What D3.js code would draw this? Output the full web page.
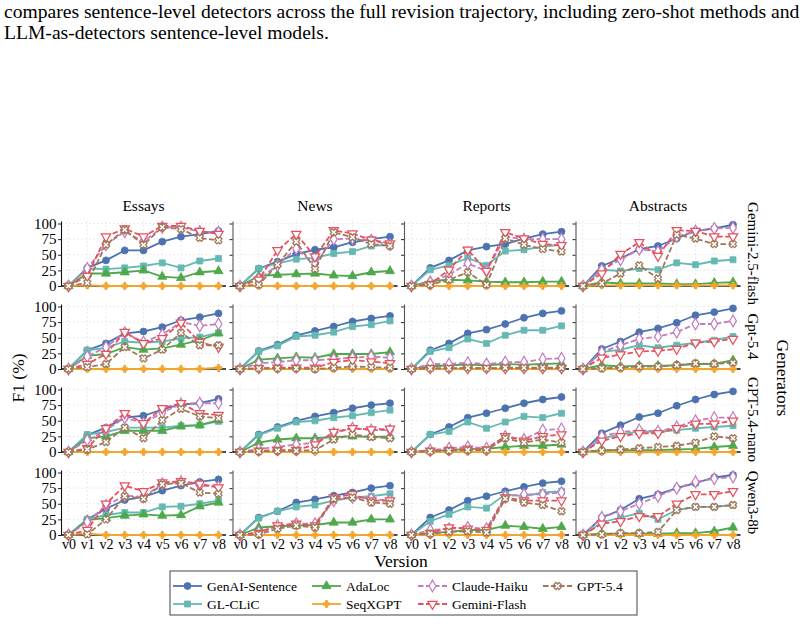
<!DOCTYPE html>
<html>
<head>
<meta charset="utf-8">
<script src="https://cdn.jsdelivr.net/npm/d3@7"></script>
<style>
  body{margin:0;background:#fff;}
  svg{display:block;font-family:"Liberation Serif","Times New Roman",serif;}
</style>
</head>
<body>
<svg id="svg" width="804" height="624"></svg>
<script>
// ---- data ----
var versions = ["v0","v1","v2","v3","v4","v5","v6","v7","v8"];
var domains = ["Essays","News","Reports","Abstracts"];
var generators = ["Gemini-2.5-flash","Gpt-5.4","GPT-5.4-nano","Qwen3-8b"];
var detectors = ["GenAI-Sentence","GL-CLiC","AdaLoc","SeqXGPT","Claude-Haiku","Gemini-Flash","GPT-5.4"];
var yTicks = [0,25,50,75,100];

// one array per panel, rows follow the detectors order above (F1 in %)
var geminiEssays = [
  [0,29,41,57,57,71,79,83,88],
  [0,28,27,29,32,37,29,40,44],
  [0,20,20,22,25,15,13,22,24],
  [0,1,0,0,0,0,0,0,0],
  [0,28,66,87,71,94,94,87,86],
  [0,16,79,92,79,96,96,88,83],
  [0,5,66,90,66,94,91,77,73]];
var geminiNews = [
  [0,28,39,51,58,62,70,75,79],
  [0,28,36,43,45,52,55,64,66],
  [0,16,18,19,20,17,16,22,24],
  [0,0,0,0,0,0,0,0,0],
  [0,11,33,60,35,75,76,73,66],
  [0,10,57,83,47,89,84,74,68],
  [0,2,34,71,27,86,78,67,64]];
var geminiReports = [
  [0,29,41,57,63,67,76,83,87],
  [0,26,33,45,33,56,58,63,66],
  [0,8,10,9,7,6,6,7,7],
  [0,0,0,0,0,0,0,0,0],
  [0,6,18,36,24,79,75,75,75],
  [0,3,26,58,24,86,76,67,65],
  [0,2,10,22,2,76,66,59,55]];
var geminiAbstracts = [
  [0,32,44,59,64,76,88,92,98],
  [0,26,24,28,26,37,34,40,42],
  [0,6,4,4,4,3,3,5,6],
  [0,1,1,1,1,1,1,1,1],
  [0,26,42,59,55,79,88,92,93],
  [0,20,51,70,48,89,88,79,79],
  [0,4,20,33,12,82,76,67,67]];

var gptEssays = [
  [0,30,41,57,60,67,78,83,89],
  [0,30,34,44,42,44,49,51,58],
  [0,21,24,35,31,33,39,46,57],
  [0,0,0,0,0,0,0,0,2],
  [0,20,35,58,43,55,75,69,72],
  [0,8,24,59,41,49,74,43,35],
  [0,3,8,35,17,31,58,38,38]];
var gptNews = [
  [0,29,39,54,61,68,76,81,85],
  [0,28,37,52,54,59,68,71,77],
  [0,15,17,19,18,24,24,24,27],
  [0,0,0,0,0,0,0,0,0],
  [0,9,11,14,14,16,18,20,18],
  [0,1,2,2,2,11,14,12,9],
  [0,1,1,1,0,2,4,3,2]];
var gptReports = [
  [0,30,41,57,63,72,82,89,93],
  [0,28,34,48,41,54,62,62,69],
  [0,4,6,7,6,8,7,8,9],
  [0,0,0,0,0,0,0,0,0],
  [0,8,8,10,8,11,11,16,17],
  [0,1,1,1,1,1,1,1,1],
  [0,1,1,2,1,2,2,2,2]];
var gptAbstracts = [
  [0,32,44,59,65,74,86,91,97],
  [0,27,31,38,34,38,42,46,52],
  [0,6,4,5,5,6,8,8,14],
  [0,0,0,0,0,0,0,0,0],
  [0,27,38,48,52,59,72,72,77],
  [0,18,23,28,29,32,42,44,48],
  [0,1,2,4,4,6,9,8,10]];

var nanoEssays = [
  [0,27,39,55,58,68,76,78,85],
  [0,28,32,39,39,39,42,43,49],
  [0,22,25,34,34,34,41,43,51],
  [0,0,0,0,0,0,0,0,0],
  [0,19,35,55,46,63,77,78,78],
  [0,6,38,62,46,70,78,62,59],
  [0,4,16,39,22,51,69,57,54]];
var nanoNews = [
  [0,28,40,50,57,63,70,75,78],
  [0,27,38,48,50,55,58,63,67],
  [0,15,20,22,22,24,25,24,25],
  [0,0,0,0,0,0,0,0,0],
  [0,5,8,12,15,30,38,35,35],
  [0,2,3,3,12,32,38,36,37],
  [0,1,2,2,3,20,28,24,22]];
var nanoReports = [
  [0,28,40,55,62,70,78,84,88],
  [0,28,33,48,38,48,57,55,62],
  [0,2,3,5,5,8,10,10,12],
  [0,0,0,0,0,0,0,0,0],
  [0,3,6,8,6,25,20,35,37],
  [0,2,3,5,4,25,18,25,28],
  [0,1,2,3,3,22,15,20,15]];
var nanoAbstracts = [
  [0,30,43,56,62,74,84,92,97],
  [0,22,28,33,32,35,38,40,42],
  [0,3,3,3,3,4,5,8,10],
  [0,0,0,0,0,0,0,0,0],
  [0,25,32,35,33,40,50,55,55],
  [0,18,25,30,30,38,45,45,50],
  [0,2,4,6,8,10,15,25,22]];

var qwenEssays = [
  [0,25,42,56,61,71,79,85,89],
  [0,25,32,36,36,45,46,50,55],
  [0,24,27,31,33,31,32,46,52],
  [0,2,0,0,0,0,0,0,0],
  [0,21,47,63,61,82,85,79,77],
  [0,8,50,79,70,84,86,82,76],
  [0,1,25,62,58,81,83,68,66]];
var qwenNews = [
  [0,28,38,52,57,63,68,75,79],
  [0,27,38,45,48,55,60,62,66],
  [0,12,14,15,16,20,20,25,25],
  [0,0,0,0,0,0,0,0,0],
  [0,5,15,18,18,55,60,58,55],
  [0,3,15,18,15,60,65,55,55],
  [0,1,10,15,12,58,60,52,50]];
var qwenReports = [
  [0,28,40,55,62,70,77,83,86],
  [0,22,33,45,43,65,62,68,70],
  [0,3,5,8,8,15,13,10,13],
  [0,0,0,0,0,0,0,0,0],
  [0,8,10,12,10,62,65,65,68],
  [0,3,12,10,8,60,55,55,55],
  [0,2,5,6,4,58,52,48,38]];
var qwenAbstracts = [
  [0,28,40,58,65,75,83,92,96],
  [0,20,28,35,25,40,45,45,48],
  [0,2,2,2,2,3,3,6,12],
  [0,0,0,0,0,0,0,0,0],
  [0,28,38,50,62,75,85,90,93],
  [0,18,22,30,30,50,65,65,70],
  [0,1,3,3,5,40,45,45,48]];

var panels = [
  [geminiEssays, geminiNews, geminiReports, geminiAbstracts],
  [gptEssays, gptNews, gptReports, gptAbstracts],
  [nanoEssays, nanoNews, nanoReports, nanoAbstracts],
  [qwenEssays, qwenNews, qwenReports, qwenAbstracts]];

// ---- style ----
// filled X marker (matplotlib "X")
var symbolXFilled = {
  draw: function(ctx, size){
    var r = Math.sqrt(size)/2*1.15, w = r*0.38;
    var pts = [[-w,-r],[w,-r],[w,-w],[r,-w],[r,w],[w,w],[w,r],[-w,r],[-w,w],[-r,w],[-r,-w],[-w,-w]];
    var c = Math.SQRT1_2;
    pts.forEach(function(p,i){
      var x = (p[0]-p[1])*c, y = (p[0]+p[1])*c;
      if(i===0) ctx.moveTo(x,y); else ctx.lineTo(x,y);
    });
    ctx.closePath();
  }
};

var styles = [
  {color:"#4c72b0", dash:null, symbol:d3.symbolCircle, size:38, fill:true, rot:0},
  {color:"#66b9b2", dash:null, symbol:d3.symbolSquare, size:36, fill:true, rot:0},
  {color:"#4fa84c", dash:null, symbol:d3.symbolTriangle, size:36, fill:true, rot:0},
  {color:"#f2a62d", dash:null, symbol:d3.symbolCross, size:26, fill:true, rot:0},
  {color:"#c47cbf", dash:"5.5,2.5", symbol:d3.symbolDiamond, size:40, fill:false, rot:0},
  {color:"#e8515b", dash:"5.5,2.5", symbol:d3.symbolTriangle, size:38, fill:false, rot:180},
  {color:"#a0775a", dash:"5.5,2.5", symbol:symbolXFilled, size:40, fill:false, rot:0}
];

var svg = d3.select("#svg");

// caption lines from the paper above the figure
var caption = svg.append("g");
caption.append("text").attr("x",4).attr("y",18).attr("font-size",19.6)
  .text("compares sentence-level detectors across the full revision trajectory, including zero-shot methods and");
caption.append("text").attr("x",4).attr("y",39).attr("font-size",19.6)
  .text("LLM-as-detectors sentence-level models.");

var panelLeft = [61, 232.5, 404, 575.5];
var panelW = 165, panelH = 65;
var rowBottom = [286, 369, 452, 535];

var xScale = d3.scalePoint().domain(versions).range([7.5, panelW-7.5]);
var yScale = d3.scaleLinear().domain([0,104]).range([panelH,0]);

var line = d3.line()
  .x(function(d,i){ return xScale(versions[i]); })
  .y(function(d){ return yScale(d); });

function marker(s){
  return d3.symbol().type(s.symbol).size(s.size)();
}

panels.forEach(function(row, r){
  row.forEach(function(vals, c){
    var g = svg.append("g")
      .attr("transform","translate("+panelLeft[c]+","+(rowBottom[r]-panelH)+")");

    // grid
    g.append("g").selectAll("line").data(versions).enter().append("line")
      .attr("x1",function(d){return xScale(d);}).attr("x2",function(d){return xScale(d);})
      .attr("y1",0).attr("y2",panelH)
      .attr("stroke","#e6e6e6").attr("stroke-width",0.8).attr("stroke-dasharray","2,2");
    g.append("g").selectAll("line").data(yTicks).enter().append("line")
      .attr("x1",0).attr("x2",panelW)
      .attr("y1",function(d){return yScale(d);}).attr("y2",function(d){return yScale(d);})
      .attr("stroke","#e6e6e6").attr("stroke-width",0.8).attr("stroke-dasharray","2,2");

    // axes
    var yAxis = g.append("g").call(
      d3.axisLeft(yScale).tickValues(yTicks).tickSize(3).tickSizeOuter(0).tickPadding(1.5)
        .tickFormat(c===0 ? d3.format("d") : ""));
    yAxis.select(".domain").attr("stroke", c===0 ? "#111" : "#555").attr("stroke-width",1.1);
    yAxis.selectAll(".tick line").attr("stroke","#222");
    yAxis.selectAll("text").attr("font-size",15).attr("fill","#000")
      .attr("font-family","Liberation Serif, serif");

    var xAxis = g.append("g").attr("transform","translate(0,"+panelH+")").call(
      d3.axisBottom(xScale).tickSize(3).tickPadding(1.5)
        .tickFormat(r===3 ? null : function(){return "";}));
    xAxis.select(".domain").remove();
    xAxis.selectAll(".tick line").attr("stroke","#222");
    xAxis.selectAll("text").attr("font-size",14).attr("fill","#000")
      .attr("font-family","Liberation Serif, serif");
    g.append("line").attr("x1",0).attr("x2",panelW).attr("y1",panelH).attr("y2",panelH)
      .attr("stroke","#111").attr("stroke-width",1.3);

    // series
    vals.forEach(function(series, k){
      var s = styles[k];
      g.append("path").datum(series)
        .attr("d",line).attr("fill","none")
        .attr("stroke",s.color).attr("stroke-width",1.8)
        .attr("stroke-dasharray",s.dash);
      g.append("g").selectAll("path").data(series).enter().append("path")
        .attr("d",marker(s))
        .attr("transform",function(d,i){
          return "translate("+xScale(versions[i])+","+yScale(d)+") rotate("+s.rot+")";
        })
        .attr("fill",s.fill ? s.color : "#fff")
        .attr("stroke",s.color).attr("stroke-width",s.fill?0.8:1.2);
    });

    if(r===0){
      svg.append("text").attr("x",panelLeft[c]+panelW/2).attr("y",rowBottom[0]-panelH-10)
        .attr("text-anchor","middle").attr("font-size",15.5).text(domains[c]);
    }
    if(c===3){
      var cy = rowBottom[r]-panelH/2;
      svg.append("text").attr("transform","translate(748,"+cy+") rotate(90)")
        .attr("text-anchor","middle").attr("font-size",15).text(generators[r]);
    }
  });
});

// shared labels
svg.append("text").attr("transform","translate(24,378) rotate(-90)")
  .attr("text-anchor","middle").attr("font-size",17.5).text("F1 (%)");
svg.append("text").attr("transform","translate(777,378) rotate(90)")
  .attr("text-anchor","middle").attr("font-size",17.5).text("Generators");
svg.append("text").attr("x",401).attr("y",567)
  .attr("text-anchor","middle").attr("font-size",17.5).text("Version");

// legend
var legend = svg.append("g");
legend.append("rect").attr("x",170).attr("y",571).attr("width",467).attr("height",44)
  .attr("fill","#fff").attr("stroke","#444").attr("stroke-width",1);
var legCols = [173, 312, 418, 543], legRows = [586, 604];
detectors.forEach(function(name, i){
  var s = styles[i];
  var lx = legCols[Math.floor(i/2)], ly = legRows[i%2];
  var item = legend.append("g").attr("transform","translate("+lx+","+ly+")");
  item.append("line").attr("x1",0).attr("x2",29).attr("y1",0).attr("y2",0)
    .attr("stroke",s.color).attr("stroke-width",1.8).attr("stroke-dasharray",s.dash);
  item.append("path").attr("d",marker(s))
    .attr("transform","translate(14.5,0) rotate("+s.rot+")")
    .attr("fill",s.fill ? s.color : "#fff")
    .attr("stroke",s.color).attr("stroke-width",s.fill?0.8:1.2);
  item.append("text").attr("x",34).attr("y",4.5).attr("font-size",13.5).text(name);
});
</script>
</body>
</html>
